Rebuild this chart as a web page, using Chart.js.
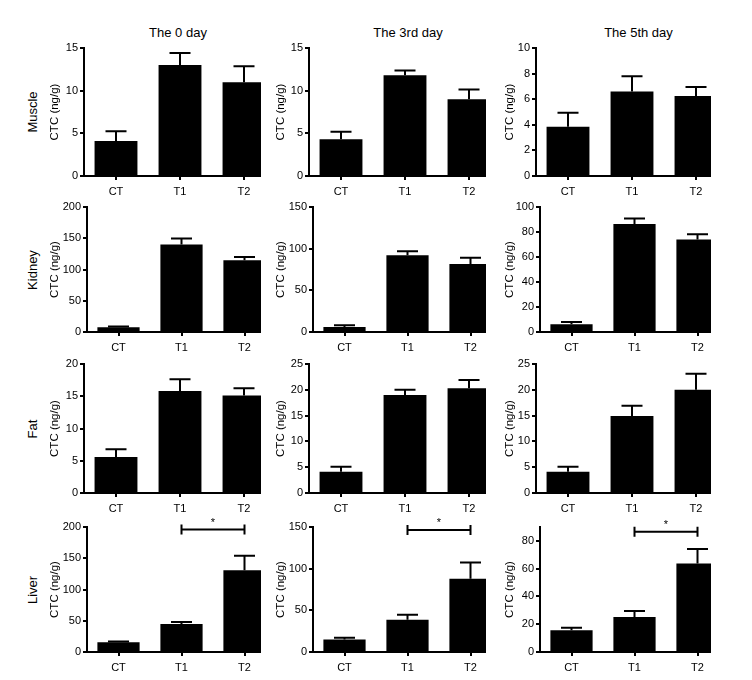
<!DOCTYPE html>
<html><head><meta charset="utf-8">
<script src="https://cdn.jsdelivr.net/npm/chart.js@4"></script>
<style>
html,body{margin:0;padding:0;background:#fff;}
body{width:752px;height:680px;position:relative;overflow:hidden;font-family:"Liberation Sans",Arial,Helvetica,sans-serif;color:#000;}
.clip{position:absolute;overflow:hidden;}
.inner{position:absolute;left:0;top:0;}
.lbl{position:absolute;font-size:13px;white-space:nowrap;transform:translate(-50%,-50%);line-height:1;}
.rot{transform:translate(-50%,-50%) rotate(-90deg);}
</style></head><body>
<script>
// ---- data ----
const categories = ['CT', 'T1', 'T2'];
const days = ['The 0 day', 'The 3rd day', 'The 5th day'];
const tissues = ['Muscle', 'Kidney', 'Fat', 'Liver'];
const yTitle = 'CTC (ng/g)';
// rows = day (0, 3rd, 5th); columns = CT, T1, T2
const muscleMean = [[4.1, 13.0, 11.0], [4.3, 11.8, 9.0], [3.85, 6.6, 6.25]];
const muscleSem  = [[1.15, 1.4, 1.85], [0.9, 0.55, 1.15], [1.1, 1.2, 0.7]];
const kidneyMean = [[7.5, 140, 115], [6, 92, 81.5], [6.2, 86.4, 74]];
const kidneySem  = [[1.5, 9.5, 5], [2, 5, 7.5], [1.8, 4.5, 4.2]];
const fatMean    = [[5.6, 15.8, 15.1], [4.1, 19.0, 20.3], [4.1, 14.9, 20.0]];
const fatSem     = [[1.2, 1.85, 1.15], [1.0, 1.0, 1.6], [1.0, 2.0, 3.1]];
const liverMean  = [[15.5, 45, 131], [15, 38.8, 87.8], [15.6, 25.2, 63.7]];
const liverSem   = [[1.2, 3, 23], [2, 6, 19.5], [1.9, 4.3, 10.5]];
const yMax  = [[15, 15, 10], [200, 150, 100], [20, 25, 25], [200, 150, 90]];
const yStep = [[5, 5, 2], [50, 50, 20], [5, 5, 5], [50, 50, 20]];
const liverBracket = [196, 146.5, 86.5]; // T1 vs T2 significance bracket height
const sigLabel = '*';

const means = [muscleMean, kidneyMean, fatMean, liverMean];
const sems = [muscleSem, kidneySem, fatSem, liverSem];

// ---- layout ----
const rowTop = [48, 207, 364, 527];
const rowH = [128, 125, 129, 125];
const colLeft = [48, 274, 503];
const axisX = [[84, 309, 536], [87, 313, 540], [84, 309, 536], [87, 313, 540]];
const catW = [64, 63, 64, 63];
const clipR = [261, 486, 711];
const colTitleX = [178, 408, 638.5];
const padTop = 14, xAxisH = 28;
const FONT = '"Liberation Sans", Arial, Helvetica, sans-serif';
Chart.defaults.font.family = FONT;
Chart.defaults.color = '#000';

const errPlugin = {
  id: 'errs',
  afterDatasetsDraw(chart) {
    const ds = chart.data.datasets[0];
    const meta = chart.getDatasetMeta(0);
    const y = chart.scales.y, x = chart.scales.x;
    const ctx = chart.ctx;
    ctx.save();
    ctx.strokeStyle = '#000';
    ctx.lineWidth = 2;
    meta.data.forEach((bar, i) => {
      const v = ds.data[i], e = ds.sem[i];
      const yt = y.getPixelForValue(v + e), yb = y.getPixelForValue(v);
      ctx.beginPath();
      ctx.moveTo(bar.x, yb); ctx.lineTo(bar.x, yt);
      ctx.moveTo(bar.x - 10.5, yt); ctx.lineTo(bar.x + 10.5, yt);
      ctx.stroke();
    });
    if (ds.bracket != null) {
      const by = y.getPixelForValue(ds.bracket);
      const x1 = x.getPixelForValue(1), x2 = x.getPixelForValue(2);
      ctx.beginPath();
      ctx.moveTo(x1, by); ctx.lineTo(x2, by);
      ctx.moveTo(x1, by - 5); ctx.lineTo(x1, by + 5);
      ctx.moveTo(x2, by - 5); ctx.lineTo(x2, by + 5);
      ctx.stroke();
      ctx.fillStyle = '#000';
      ctx.font = '11px ' + FONT;
      ctx.textAlign = 'center';
      ctx.textBaseline = 'alphabetic';
      ctx.fillText(sigLabel, (x1 + x2) / 2, by - 4);
    }
    ctx.restore();
  }
};

function addLabel(text, cx, cy, rot) {
  const d = document.createElement('div');
  d.className = 'lbl' + (rot ? ' rot' : '');
  d.style.left = cx + 'px';
  d.style.top = cy + 'px';
  d.textContent = text;
  document.body.appendChild(d);
}

days.forEach((d, c) => addLabel(d, colTitleX[c], 31.5, false));
tissues.forEach((t, r) => addLabel(t, 32, rowTop[r] + rowH[r] / 2, true));

for (let r = 0; r < 4; r++) {
  for (let c = 0; c < 3; c++) {
    const W = axisX[r][c] - colLeft[c];
    const innerW = W + 3 * catW[r];
    const H = padTop + rowH[r] + xAxisH;
    const outer = document.createElement('div');
    outer.className = 'clip';
    outer.style.left = colLeft[c] + 'px';
    outer.style.top = (rowTop[r] - padTop) + 'px';
    outer.style.width = (clipR[c] - colLeft[c]) + 'px';
    outer.style.height = H + 'px';
    const inner = document.createElement('div');
    inner.className = 'inner';
    inner.style.width = innerW + 'px';
    inner.style.height = H + 'px';
    const cv = document.createElement('canvas');
    cv.width = innerW; cv.height = H;
    cv.style.width = innerW + 'px'; cv.style.height = H + 'px';
    inner.appendChild(cv); outer.appendChild(inner); document.body.appendChild(outer);
    const step = yStep[r][c];
    new Chart(cv.getContext('2d'), {
      type: 'bar',
      data: {
        labels: categories,
        datasets: [{
          data: means[r][c],
          sem: sems[r][c],
          bracket: r === 3 ? liverBracket[c] : null,
          backgroundColor: '#000',
          borderWidth: 0,
          categoryPercentage: 1,
          barPercentage: 0.67
        }]
      },
      options: {
        responsive: false,
        animation: false,
        devicePixelRatio: 1,
        layout: { padding: { top: padTop, left: 0, right: 0, bottom: 0 } },
        plugins: { legend: { display: false }, tooltip: { enabled: false } },
        scales: {
          x: {
            grid: { display: true, drawOnChartArea: false, drawTicks: true, tickLength: 4, color: '#000', lineWidth: 2, offset: false },
            border: { display: true, color: '#000', width: 2 },
            ticks: { color: '#000', font: { size: 11 }, padding: 5, maxRotation: 0, autoSkip: false },
            afterFit(s) { s.height = xAxisH; }
          },
          y: {
            min: 0, max: yMax[r][c],
            grid: { display: true, drawOnChartArea: false, drawTicks: true, tickLength: 4, color: '#000', lineWidth: 2 },
            border: { display: true, color: '#000', width: 2 },
            ticks: { stepSize: step, color: '#000', font: { size: 11 }, padding: 2 },
            title: { display: true, text: yTitle, color: '#000', font: { size: 11.5 }, padding: { top: 0, bottom: 0 } },
            afterFit(s) { s.width = W; },
            afterBuildTicks(s) {
              s.ticks = s.ticks.filter(t => Math.abs(t.value / step - Math.round(t.value / step)) < 1e-6);
            }
          }
        }
      },
      plugins: [errPlugin]
    });
  }
}
</script>
</body></html>
